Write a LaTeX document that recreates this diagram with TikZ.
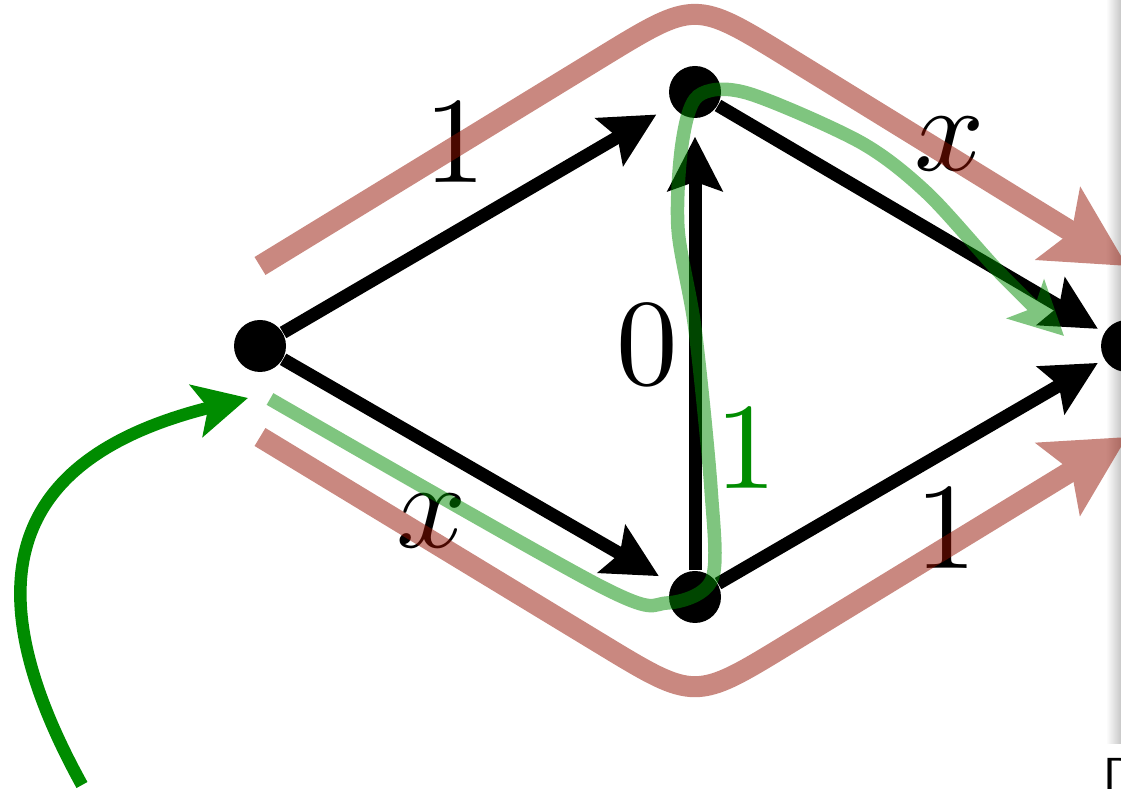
\documentclass[tikz,border=0pt]{standalone}
\usepackage{tikz}
\usetikzlibrary{arrows.meta,calc}
\definecolor{bandred}{HTML}{931101}
\definecolor{pathgreen}{HTML}{008C00}
\tikzset{
  vertex/.style={circle, fill=black, inner sep=0pt, minimum size=5.2mm},
  edgearrow/.style={-{Stealth[length=5.4mm,width=5.4mm,inset=0.9mm]}, line width=1.3mm, shorten >=1.8mm},
  lbl/.style={inner sep=0pt, scale=3.5},
  redband/.style={draw=bandred, line width=2.1mm,
    -{Stealth[length=8mm,width=8.3mm,inset=1.5mm]}},
  greenband/.style={draw=pathgreen, line width=1.35mm,
    -{Stealth[length=5.3mm,width=5.3mm,inset=1.2mm]}}
}

\begin{document}
\begin{tikzpicture}[
  startarrow/.style={draw=pathgreen, line width=1.25mm, -{Stealth[length=5.3mm,width=5.3mm,inset=1.2mm]}}]
\useasboundingbox (0,0) rectangle (11.21,7.89);
\clip (0,0) rectangle (11.21,7.89);
\shade[left color=white, right color=black!22] (11.06,0.45) rectangle (11.21,7.89);
\node[font=\sffamily\fontsize{14}{14}\selectfont, anchor=north west, inner sep=0pt] (dmark) at (11.03,0.31) {D};

\node[vertex] (s) at (2.60,4.43) {};
\node[vertex] (u) at (6.95,6.97) {};
\node[vertex] (v) at (6.95,1.92) {};
\node[vertex] (t) at (11.27,4.43) {};

\draw[edgearrow] (s) -- node[xshift=-2.2mm, yshift=7.6mm, lbl] (l1) {$1$} (u);
\draw[edgearrow, shorten >=1.5mm] (s) -- node[xshift=-4.6mm, yshift=-5mm, lbl] (l2) {$x$} (v);
\draw[edgearrow] (v) -- node[xshift=-4.8mm, lbl] (l3) {$0$} (u);
\draw[edgearrow, shorten >=0.7mm] (u) -- node[xshift=3.9mm, yshift=7.5mm, lbl] (l4) {$x$} (t);
\draw[edgearrow, shorten >=0.7mm] (v) -- node[xshift=3.5mm, yshift=-5.7mm, lbl] (l5) {$1$} (t);

\coordinate (ra) at ($(s)+(0,0.8)$);
\coordinate (rb) at ($(u)+(0,0.92)$);
\coordinate (rc) at ($(t)+(0,0.8)$);
\coordinate (qa) at ($(s)+(0,-0.91)$);
\coordinate (qb) at ($(v)+(0,-1.04)$);
\coordinate (qc) at ($(t)+(0,-0.91)$);
\begin{scope}[transparency group, opacity=.5]
\draw[redband] (ra) -- ($(rb)!1.1cm!(ra)$) .. controls (rb) .. ($(rb)!1.1cm!(rc)$) -- (rc);
\draw[redband] (qa) -- ($(qb)!1.1cm!(qa)$) .. controls (qb) .. ($(qb)!1.1cm!(qc)$) -- (qc);
\end{scope}

\coordinate (gs) at (2.70,3.90);
\coordinate (ge) at (10.64,4.53);
\begin{scope}[transparency group, opacity=.5]
\draw[greenband] plot[smooth, tension=.5] coordinates {(gs) (6.00,2.03) (6.67,1.86) (7.12,2.10) (7.11,3.00)
  (6.95,4.60) (6.78,5.60) (6.82,6.45) (6.98,6.93) (7.47,6.96) (8.60,6.47) (9.27,5.96) (10.00,5.16) (ge)};
\end{scope}
\node[lbl, text=pathgreen] (g1) at (7.46,3.40) {$1$};

\coordinate (cs) at (0.82,0.04);
\coordinate (ce) at (2.48,3.91);
\draw[startarrow] (cs) .. controls (-0.44,2.32) and (0.35,3.38) .. (ce);
\end{tikzpicture}
\end{document}
